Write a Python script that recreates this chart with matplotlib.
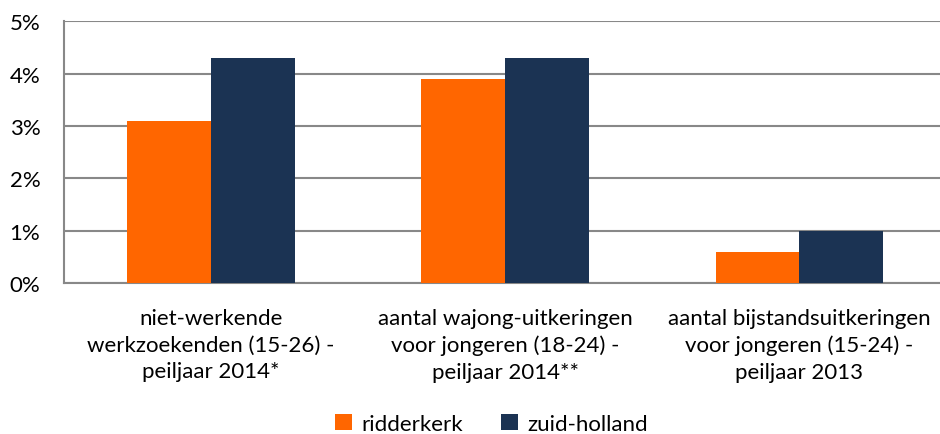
import matplotlib.pyplot as plt
import numpy as np
from matplotlib.patches import Patch
from matplotlib.ticker import FuncFormatter

categories = [
    'niet-werkende\nwerkzoekenden (15-26) -\npeiljaar 2014*',
    'aantal wajong-uitkeringen\nvoor jongeren (18-24) -\npeiljaar 2014**',
    'aantal bijstandsuitkeringen\nvoor jongeren (15-24) -\npeiljaar 2013',
]
ridderkerk = [3.1, 3.9, 0.6]
zuid_holland = [4.3, 4.3, 1.0]
series_names = ['ridderkerk', 'zuid-holland']

orange = '#FF6600'
navy = '#1B3353'
grid = '#888888'

plt.rcParams['font.family'] = ['Lato', 'DejaVu Sans']

fig = plt.figure(figsize=(9.4, 4.35), dpi=100)
ax = fig.add_axes([0.068, 0.347, 0.939, 0.602])

x = np.arange(len(categories))
w = 0.285
ax.bar(x - w / 2, ridderkerk, width=w, color=orange, zorder=3)
ax.bar(x + w / 2, zuid_holland, width=w, color=navy, zorder=3)

ax.set_xlim(-0.5, 2.5)
ax.set_ylim(0, 5)
ax.set_yticks(range(6))
ax.yaxis.set_major_formatter(FuncFormatter(lambda v, p: f'{int(v)}%'))
ax.yaxis.grid(True, color=grid, linewidth=1.5, zorder=0)
ax.set_axisbelow(True)

for s in ['top', 'right']:
    ax.spines[s].set_visible(False)
for s in ['left', 'bottom']:
    ax.spines[s].set_color(grid)
    ax.spines[s].set_linewidth(1.5)

ax.tick_params(axis='y', length=0, pad=17, labelsize=16, colors='black')
ax.tick_params(axis='x', length=0, pad=18, labelsize=16)
ax.set_xticks(x)
ax.set_xticklabels(categories, linespacing=1.4)

handles = [Patch(facecolor=orange, label=series_names[0]),
           Patch(facecolor=navy, label=series_names[1])]
fig.legend(handles=handles, loc='lower center', ncol=2, frameon=False,
           fontsize=16, bbox_to_anchor=(0.523, -0.045), handlelength=0.75,
           handleheight=0.75, handletextpad=0.45, columnspacing=1.7)

fig.savefig('out.png', dpi=100)
